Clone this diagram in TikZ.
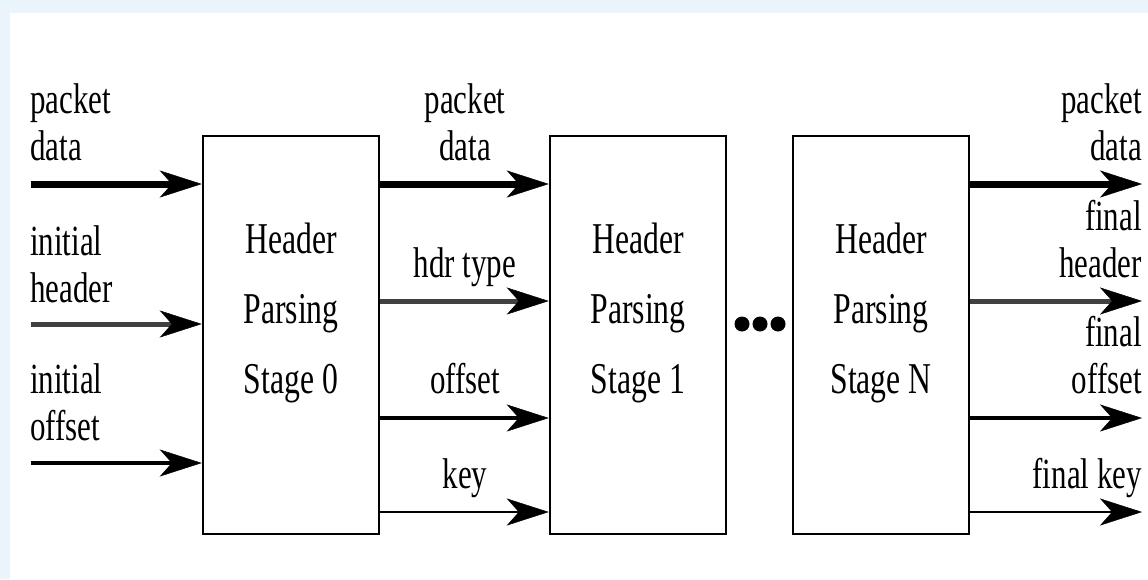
\documentclass[tikz,border=0pt]{standalone}
\usepackage{fontspec}
\setmainfont[FakeStretch=0.72]{Liberation Serif}
\usetikzlibrary{arrows.meta}
\definecolor{bgtint}{HTML}{E9F5FB}
\tikzset{
  stagebox/.style={draw=black, line width=2.5pt, minimum width=176pt,
    minimum height=398pt, inner sep=0pt},
  stagetext/.style={font=\fontsize{44}{70}\selectfont, align=center, inner sep=0pt},
  lbl/.style={font=\fontsize{43}{47}\selectfont, inner sep=0pt},
  head/.style={-{Stealth[length=42pt, width=27pt, inset=12pt, line width=0.5pt, color=black]}},
  datawire/.style={head, line width=7pt},
  hdrwire/.style={head, line width=5pt, draw=black!75},
  offwire/.style={head, line width=3.5pt},
  keywire/.style={head, line width=2.5pt},
  dot/.style={circle, fill=black, inner sep=0pt, minimum size=15pt},
}
\begin{document}
\begin{tikzpicture}[x=1pt, y=-1pt]
  \useasboundingbox (0,0) rectangle (1148,579);
  % page background
  \fill[bgtint] (0,0) rectangle (1148,579);
  \fill[white] (10,13) rectangle (1148,579);

  % parser stages
  \node[stagebox] (b0) at (291,335) {};
  \node[stagebox] (b1) at (638,335) {};
  \node[stagebox] (bN) at (881,335) {};
  \node[stagetext] (t0) at (291,313) {Header\\Parsing\\Stage 0};
  \node[stagetext] (t1) at (638,313) {Header\\Parsing\\Stage 1};
  \node[stagetext] (tN) at (881,313) {Header\\Parsing\\Stage N};

  % ellipsis between stage 1 and stage N
  \node[dot] (d1) at (742,324) {};
  \node[dot] (d2) at (760,324) {};
  \node[dot] (d3) at (778,324) {};

  % wire rows
  \coordinate (inPD)  at (31,184);
  \coordinate (inHdr) at (31,324);
  \coordinate (inOff) at (31,463);
  \coordinate (outPD)  at (1142,184);
  \coordinate (outHdr) at (1142,301);
  \coordinate (outOff) at (1142,418);
  \coordinate (outKey) at (1142,512);

  % inputs of stage 0
  \draw[datawire] (inPD) -- (inPD -| b0.west);
  \draw[hdrwire] (inHdr) -- (inHdr -| b0.west);
  \draw[offwire] (inOff) -- (inOff -| b0.west);

  % stage 0 -> stage 1
  \draw[datawire] (b0.east |- outPD) -- (b1.west |- outPD);
  \draw[hdrwire] (b0.east |- outHdr) -- (b1.west |- outHdr);
  \draw[offwire] (b0.east |- outOff) -- (b1.west |- outOff);
  \draw[keywire] (b0.east |- outKey) -- (b1.west |- outKey);

  % outputs of stage N
  \draw[datawire] (bN.east |- outPD) -- (outPD);
  \draw[hdrwire] (bN.east |- outHdr) -- (outHdr);
  \draw[offwire] (bN.east |- outOff) -- (outOff);
  \draw[keywire] (bN.east |- outKey) -- (outKey);

  % input labels (base = baseline of the last line)
  \node[lbl, align=left, anchor=base west] (lpd) at (30,160) {packet\\data};
  \node[lbl, align=left, anchor=base west] (lhdr) at (30,302) {initial\\header};
  \node[lbl, align=left, anchor=base west] (loff) at (30,440) {initial\\offset};

  % labels between stage 0 and stage 1
  \node[lbl, align=center, anchor=base] (mpd) at (465,160) {packet\\data};
  \node[lbl, anchor=base] (mhdr) at (465,277) {hdr type};
  \node[lbl, anchor=base] (moff) at (465,393) {offset};
  \node[lbl, anchor=base] (mkey) at (465,488) {key};

  % output labels
  \node[lbl, align=right, anchor=base east] (rpd) at (1142,160) {packet\\data};
  \node[lbl, align=right, anchor=base east] (rhdr) at (1142,277) {final\\header};
  \node[lbl, align=right, anchor=base east] (roff) at (1142,393) {final\\offset};
  \node[lbl, anchor=base east] (rkey) at (1142,488) {final key};
\end{tikzpicture}
\end{document}
